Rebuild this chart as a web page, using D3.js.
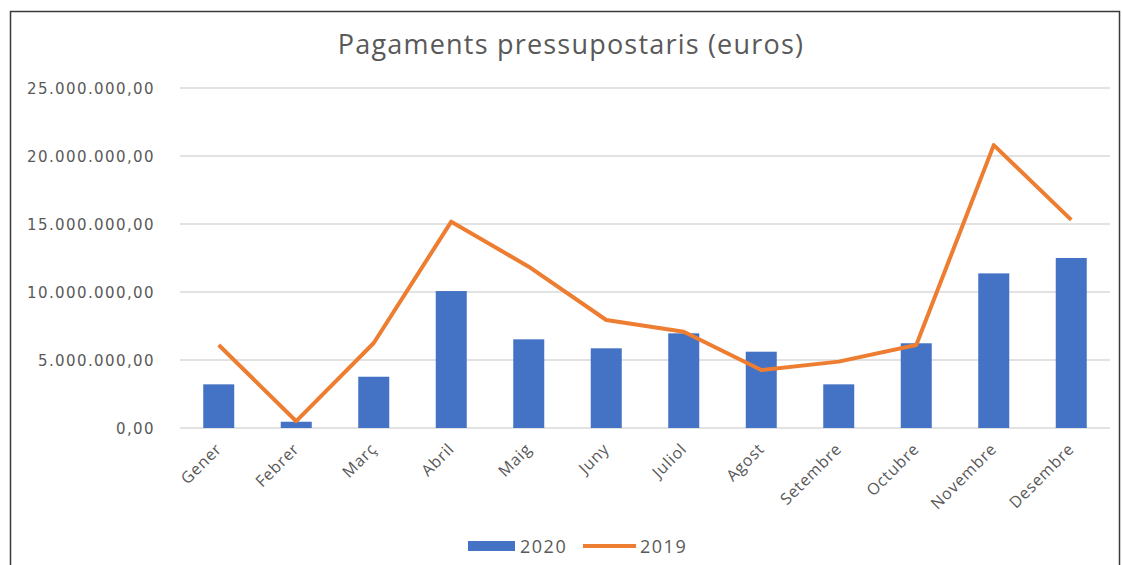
<!DOCTYPE html>
<html>
<head>
<meta charset="utf-8">
<script src="https://cdn.jsdelivr.net/npm/d3@7"></script>
<style>
  body { margin: 0; background: #fff; }
  text { font-family: "Open Sans", sans-serif; fill: #595959; }
</style>
</head>
<body>
<div class="vis-chart"></div>
<script>
const months = ['Gener', 'Febrer', 'Març', 'Abril', 'Maig', 'Juny', 'Juliol', 'Agost', 'Setembre', 'Octubre', 'Novembre', 'Desembre'];
const values2020 = [3210000, 460000, 3770000, 10070000, 6520000, 5860000, 6960000, 5610000, 3210000, 6230000, 11370000, 12500000];
const values2019 = [6100000, 500000, 6250000, 15170000, 11860000, 7940000, 7080000, 4260000, 4880000, 6100000, 20800000, 15300000];
const yTicks = [0, 5000000, 10000000, 15000000, 20000000, 25000000];

const W = 1122, H = 565;
const margin = { top: 88, right: 12, bottom: 137, left: 180 };
const width = W - margin.left - margin.right;
const height = H - margin.top - margin.bottom;

const svg = d3.select('.vis-chart')
    .append('svg')
    .attr('width', W)
    .attr('height', H);

// outer frame
svg.append('rect')
    .attr('x', 10.5).attr('y', 11.5)
    .attr('width', 1109).attr('height', 600)
    .attr('fill', 'none')
    .attr('stroke', '#3a3a3a')
    .attr('stroke-width', 1.5);

svg.append('text')
    .attr('x', 571).attr('y', 54)
    .attr('text-anchor', 'middle')
    .style('font-size', '27px')
    .style('letter-spacing', '1.2px')
    .text('Pagaments pressupostaris (euros)');

const g = svg.append('g')
    .attr('transform', 'translate(' + margin.left + ',' + margin.top + ')');

const x = d3.scaleBand().domain(months).range([0, width])
    .paddingInner(0.6).paddingOuter(0.3);
const y = d3.scaleLinear().domain([0, 25000000]).range([height, 0]);

const fmt = v => d3.format(',.2f')(v).replace(/,/g, 'X').replace('.', ',').replace(/X/g, '.');

// gridlines
g.append('g')
    .selectAll('line')
    .data(yTicks)
    .enter().append('line')
    .attr('x1', 0).attr('x2', width)
    .attr('y1', d => y(d)).attr('y2', d => y(d))
    .attr('stroke', '#d9d9d9')
    .attr('stroke-width', 1.5);

// y labels
g.append('g')
    .selectAll('text')
    .data(yTicks)
    .enter().append('text')
    .attr('x', -25)
    .attr('y', d => y(d) + 5.5)
    .attr('text-anchor', 'end')
    .style('font-family', '"DejaVu Sans", sans-serif')
    .style('font-size', '15px')
    .style('letter-spacing', '1.4px')
    .text(fmt);

// bars
g.selectAll('.bar')
    .data(values2020)
    .enter().append('rect')
    .attr('class', 'bar')
    .attr('x', (d, i) => x(months[i]))
    .attr('y', d => y(d))
    .attr('width', x.bandwidth())
    .attr('height', d => height - y(d))
    .attr('fill', '#4472c4');

// line 2019
const line = d3.line()
    .x((d, i) => x(months[i]) + x.bandwidth() / 2)
    .y(d => y(d));

g.append('path')
    .datum(values2019)
    .attr('d', line)
    .attr('fill', 'none')
    .attr('stroke', '#ed7d31')
    .attr('stroke-width', 4)
    .attr('stroke-linejoin', 'round');

// x labels
g.append('g')
    .selectAll('text')
    .data(months)
    .enter().append('text')
    .attr('transform', d => 'translate(' + (x(d) + x.bandwidth() / 2 + 4) + ',' + (height + 22) + ') rotate(-45)')
    .attr('text-anchor', 'end')
    .style('font-size', '16px')
    .style('letter-spacing', '0.8px')
    .text(d => d);

// legend
const legend = svg.append('g');
legend.append('rect')
    .attr('x', 468).attr('y', 541)
    .attr('width', 47).attr('height', 10)
    .attr('fill', '#4472c4');
legend.append('text')
    .attr('x', 520).attr('y', 553)
    .style('font-size', '18px')
    .style('letter-spacing', '1.5px')
    .text('2020');
legend.append('line')
    .attr('x1', 583).attr('x2', 636)
    .attr('y1', 546).attr('y2', 546)
    .attr('stroke', '#ed7d31')
    .attr('stroke-width', 4);
legend.append('text')
    .attr('x', 640).attr('y', 553)
    .style('font-size', '18px')
    .style('letter-spacing', '1.5px')
    .text('2019');
</script>
</body>
</html>
